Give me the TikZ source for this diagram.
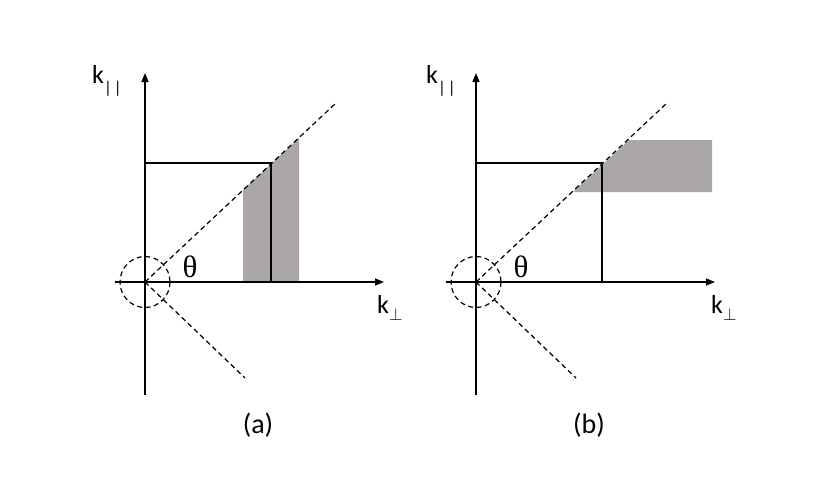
\documentclass[tikz,border=0pt]{standalone}
\usepackage{fontspec}
\setmainfont{Carlito}
\newfontfamily\grfont{Liberation Serif}
\usetikzlibrary{arrows.meta}
\definecolor{shadegray}{RGB}{171,167,167}
\begin{document}
\begin{tikzpicture}[x=1pt,y=-1pt,
  axis/.style={line width=1.5pt,-{Triangle[length=9pt,width=7pt]}},
  plainaxis/.style={line width=1.5pt},
  framebox/.style={line width=2.2pt},
  dashline/.style={line width=1.2pt,dash pattern=on 5pt off 3.5pt},
  lab/.style={font=\fontsize{26}{26}\selectfont, inner sep=0pt},
  caplab/.style={font=\fontsize{28}{28}\selectfont, inner sep=0pt},
  thlab/.style={font=\grfont\fontsize{31}{31}\selectfont, inner sep=0pt}
]
\useasboundingbox (0,0) rectangle (822,493);
% ---------------- panel (a)
\begin{scope}
\fill[shadegray] (243,282) -- (243,190) -- (299,138) -- (299,282) -- cycle;
\coordinate (aO) at (145,282);
\coordinate (aTop) at (145,73);
\coordinate (aBot) at (145,395);
\coordinate (aL) at (115,282);
\coordinate (aR) at (384,282);
\coordinate (aC) at (271,163);
\coordinate (aCy) at (145,163);
\coordinate (aCx) at (271,282);
\coordinate (aD1) at (336,103);
\coordinate (aD2) at (245,378);
\draw[plainaxis] (aO) -- (aBot);
\draw[axis] (aO) -- (aTop);
\draw[axis] (aL) -- (aR);
\draw[framebox] (aCy) -- (aC) -- (aCx);
\draw[dashline] (aO) -- (aD1);
\draw[dashline] (aO) -- (aD2);
\draw[dashline] (aO) ellipse [x radius=25, y radius=25.5];
\node[lab,anchor=base west] (akpar) at (92,83) {k\raisebox{-0.4em}{\fontsize{17}{17}\selectfont |\kern2pt|}};
\node[lab,anchor=base west] (akperp) at (377,313) {k\raisebox{-0.3em}{\fontsize{16}{16}\selectfont$\perp$}};
\node[thlab] (ath) at (190,267) {θ};
\node[caplab] (acap) at (258,425) {(a)};
\end{scope}
% ---------------- panel (b)
\begin{scope}[xshift=331pt]
\fill[shadegray] (242,192) -- (298,140) -- (381,140) -- (381,192) -- cycle;
\coordinate (bO) at (145,282);
\coordinate (bTop) at (145,73);
\coordinate (bBot) at (145,395);
\coordinate (bL) at (115,282);
\coordinate (bR) at (384,282);
\coordinate (bC) at (271,163);
\coordinate (bCy) at (145,163);
\coordinate (bCx) at (271,282);
\coordinate (bD1) at (336,103);
\coordinate (bD2) at (245,378);
\draw[plainaxis] (bO) -- (bBot);
\draw[axis] (bO) -- (bTop);
\draw[axis] (bL) -- (bR);
\draw[framebox] (bCy) -- (bC) -- (bCx);
\draw[dashline] (bO) -- (bD1);
\draw[dashline] (bO) -- (bD2);
\draw[dashline] (bO) ellipse [x radius=25, y radius=25.5];
\node[lab,anchor=base west] (bkpar) at (95,83) {k\raisebox{-0.4em}{\fontsize{17}{17}\selectfont |\kern2pt|}};
\node[lab,anchor=base west] (bkperp) at (380,313) {k\raisebox{-0.3em}{\fontsize{16}{16}\selectfont$\perp$}};
\node[thlab] (bth) at (190,267) {θ};
\node[caplab] (bcap) at (258,425) {(b)};
\end{scope}
\end{tikzpicture}
\end{document}
